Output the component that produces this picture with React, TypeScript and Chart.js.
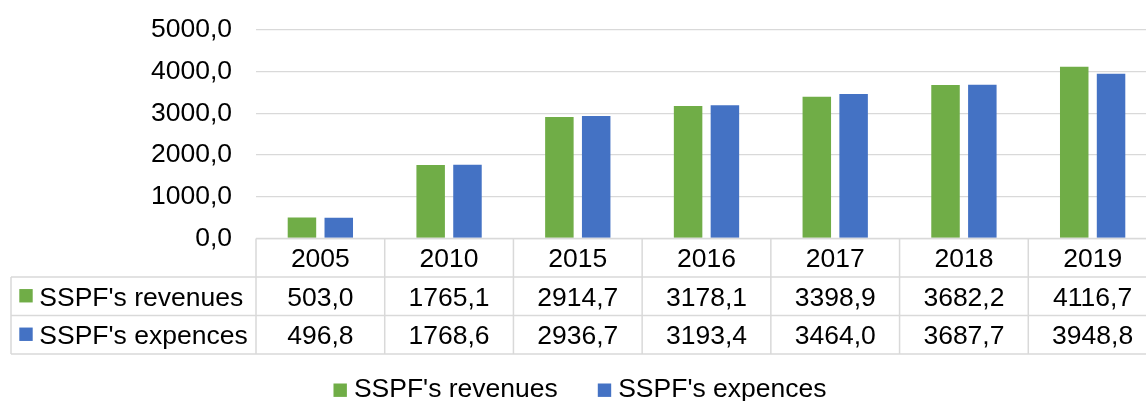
import React, { useEffect, useRef } from "react";
import { Chart, registerables } from "chart.js";

Chart.register(...registerables);

const years = ["2005", "2010", "2015", "2016", "2017", "2018", "2019"];
const revenues = [503.0, 1765.1, 2914.7, 3178.1, 3398.9, 3682.2, 4116.7];
const expences = [496.8, 1768.6, 2936.7, 3193.4, 3464.0, 3687.7, 3948.8];
const seriesNames = ["SSPF's revenues", "SSPF's expences"];
const seriesColors = ["#70AD47", "#4472C4"];
const yMin = 0;
const yMax = 5000;
const yStep = 1000;

const FONT_FAMILY = '"Liberation Sans", Arial, sans-serif';
const FONT_SIZE = 26.5;
const LINE_COLOR = "#d9d9d9";
const TEXT_COLOR = "#000000";

const fmt = (v: number) => v.toFixed(1).replace(".", ",");

const tablePlugin = {
  id: "dataTable",
  afterDraw(chart: any) {
    const ctx: CanvasRenderingContext2D = chart.ctx;
    const area = chart.chartArea;
    const n = years.length;
    const colW = (area.right - area.left) / n;
    const top = area.bottom;
    const rowH = 38.5;
    const tableLeft = 11;
    const capH = 0.716 * FONT_SIZE;
    const rows = [top, top + rowH, top + 2 * rowH, top + 3 * rowH];
    const bottom = rows[3];
    const data = [revenues, expences];

    ctx.save();
    ctx.strokeStyle = LINE_COLOR;
    ctx.lineWidth = 1.5;
    ctx.beginPath();
    ctx.moveTo(area.left, rows[0]);
    ctx.lineTo(area.right, rows[0]);
    for (let r = 1; r < 4; r++) {
      ctx.moveTo(tableLeft, rows[r]);
      ctx.lineTo(area.right, rows[r]);
    }
    ctx.moveTo(tableLeft, rows[1]);
    ctx.lineTo(tableLeft, bottom);
    for (let i = 0; i <= n; i++) {
      const x = area.left + i * colW;
      ctx.moveTo(x, rows[0]);
      ctx.lineTo(x, bottom);
    }
    ctx.stroke();

    ctx.fillStyle = TEXT_COLOR;
    ctx.font = `${FONT_SIZE}px ${FONT_FAMILY}`;
    ctx.textBaseline = "alphabetic";
    ctx.textAlign = "center";
    const xs = chart.scales.x;
    years.forEach((y, i) => {
      const cx = xs.getPixelForValue(i);
      const c0 = (rows[0] + rows[1]) / 2;
      ctx.fillText(y, cx, c0 + capH / 2);
      data.forEach((arr, s) => {
        const c = (rows[s + 1] + rows[s + 2]) / 2;
        ctx.fillText(fmt(arr[i]), cx, c + capH / 2);
      });
    });

    ctx.textAlign = "left";
    seriesNames.forEach((name, s) => {
      const c = (rows[s + 1] + rows[s + 2]) / 2;
      ctx.fillStyle = seriesColors[s];
      ctx.fillRect(19.3, c - 7.2, 13.4, 13.4);
      ctx.fillStyle = TEXT_COLOR;
      ctx.fillText(name, 39.3, c + capH / 2);
    });

    const box = 13.4;
    const gapBox = 7;
    const gapItem = 40;
    const widths = seriesNames.map((nm) => ctx.measureText(nm).width);
    const total = widths.reduce((a, w) => a + box + gapBox + w, 0) + gapItem;
    let lx = chart.width / 2 - total / 2;
    const baseY = 397;
    seriesNames.forEach((name, s) => {
      ctx.fillStyle = seriesColors[s];
      ctx.fillRect(lx, 383.5, box, box);
      ctx.fillStyle = TEXT_COLOR;
      ctx.fillText(name, lx + box + gapBox, baseY);
      lx += box + gapBox + widths[s] + gapItem;
    });
    ctx.restore();
  },
};

export default function App() {
  const ref = useRef<HTMLCanvasElement | null>(null);

  useEffect(() => {
    if (!ref.current) return;
    const chart = new Chart(ref.current, {
      type: "bar",
      data: {
        labels: years,
        datasets: [
          {
            label: seriesNames[0],
            data: revenues,
            backgroundColor: seriesColors[0],
            categoryPercentage: 0.572,
            barPercentage: 0.774,
          },
          {
            label: seriesNames[1],
            data: expences,
            backgroundColor: seriesColors[1],
            categoryPercentage: 0.572,
            barPercentage: 0.774,
          },
        ],
      },
      options: {
        animation: false,
        responsive: false,
        devicePixelRatio: 1,
        layout: { padding: { left: 0, top: 30, right: 3, bottom: 162.5 } },
        plugins: {
          legend: { display: false },
          tooltip: { enabled: false },
        },
        scales: {
          x: { display: false },
          y: {
            min: yMin,
            max: yMax,
            afterFit: (s: any) => {
              s.width = 256;
              s.paddingTop = 0;
              s.paddingBottom = 0;
            },
            ticks: {
              stepSize: yStep,
              padding: 24,
              color: TEXT_COLOR,
              font: { family: FONT_FAMILY, size: FONT_SIZE },
              callback: (v: any) => fmt(Number(v)),
            },
            grid: { color: LINE_COLOR, lineWidth: 1.3, drawTicks: false },
            border: { display: false },
          },
        },
      },
      plugins: [tablePlugin],
    });
    return () => chart.destroy();
  }, []);

  return (
    <div
      style={{
        position: "fixed",
        left: 0,
        top: 0,
        width: 1146,
        height: 401,
        overflow: "hidden",
        background: "#fff",
      }}
    >
      <canvas ref={ref} width={1160} height={401} style={{ width: 1160, height: 401, display: "block" }} />
    </div>
  );
}
